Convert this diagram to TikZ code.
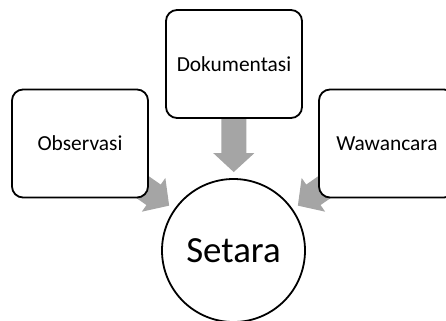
\documentclass[tikz,border=0pt]{standalone}
\usepackage{fontspec}
\setmainfont{Carlito}
\usetikzlibrary{arrows.meta,backgrounds}
\definecolor{arrowgray}{HTML}{A5A5A5}
\tikzset{
  srcbox/.style={draw=black, line width=1.8bp, rounded corners=11bp, fill=white,
    minimum width=136bp, minimum height=108bp, inner sep=0pt, font=\fontsize{21.5}{26}\selectfont},
  hub/.style={draw=black, line width=1.8bp, circle, fill=white, minimum size=143bp,
    inner sep=0pt, font=\fontsize{37}{44}\selectfont},
  bigarrow/.style={draw=arrowgray, line width=25bp,
    -{Triangle[length=19bp,width=40bp]}, shorten >=6bp}
}
\begin{document}
\begin{tikzpicture}[x=1bp,y=-1bp]
\useasboundingbox (0,0) rectangle (446,320);
\clip (0,0) rectangle (446,320);
\node[srcbox] (dok) at (234,64) {Dokumentasi};
\node[srcbox] (obs) at (80,143.5) {Observasi};
\node[srcbox] (waw) at (387,143.5) {Wawancara};
\node[hub] (set) at (233.5,250.5) {Setara};
\begin{scope}[on background layer]
\draw[bigarrow] (dok.center) -- (set);
\draw[bigarrow] (obs.center) -- (set);
\draw[bigarrow] (waw.center) -- (set);
\end{scope}
\end{tikzpicture}
\end{document}
